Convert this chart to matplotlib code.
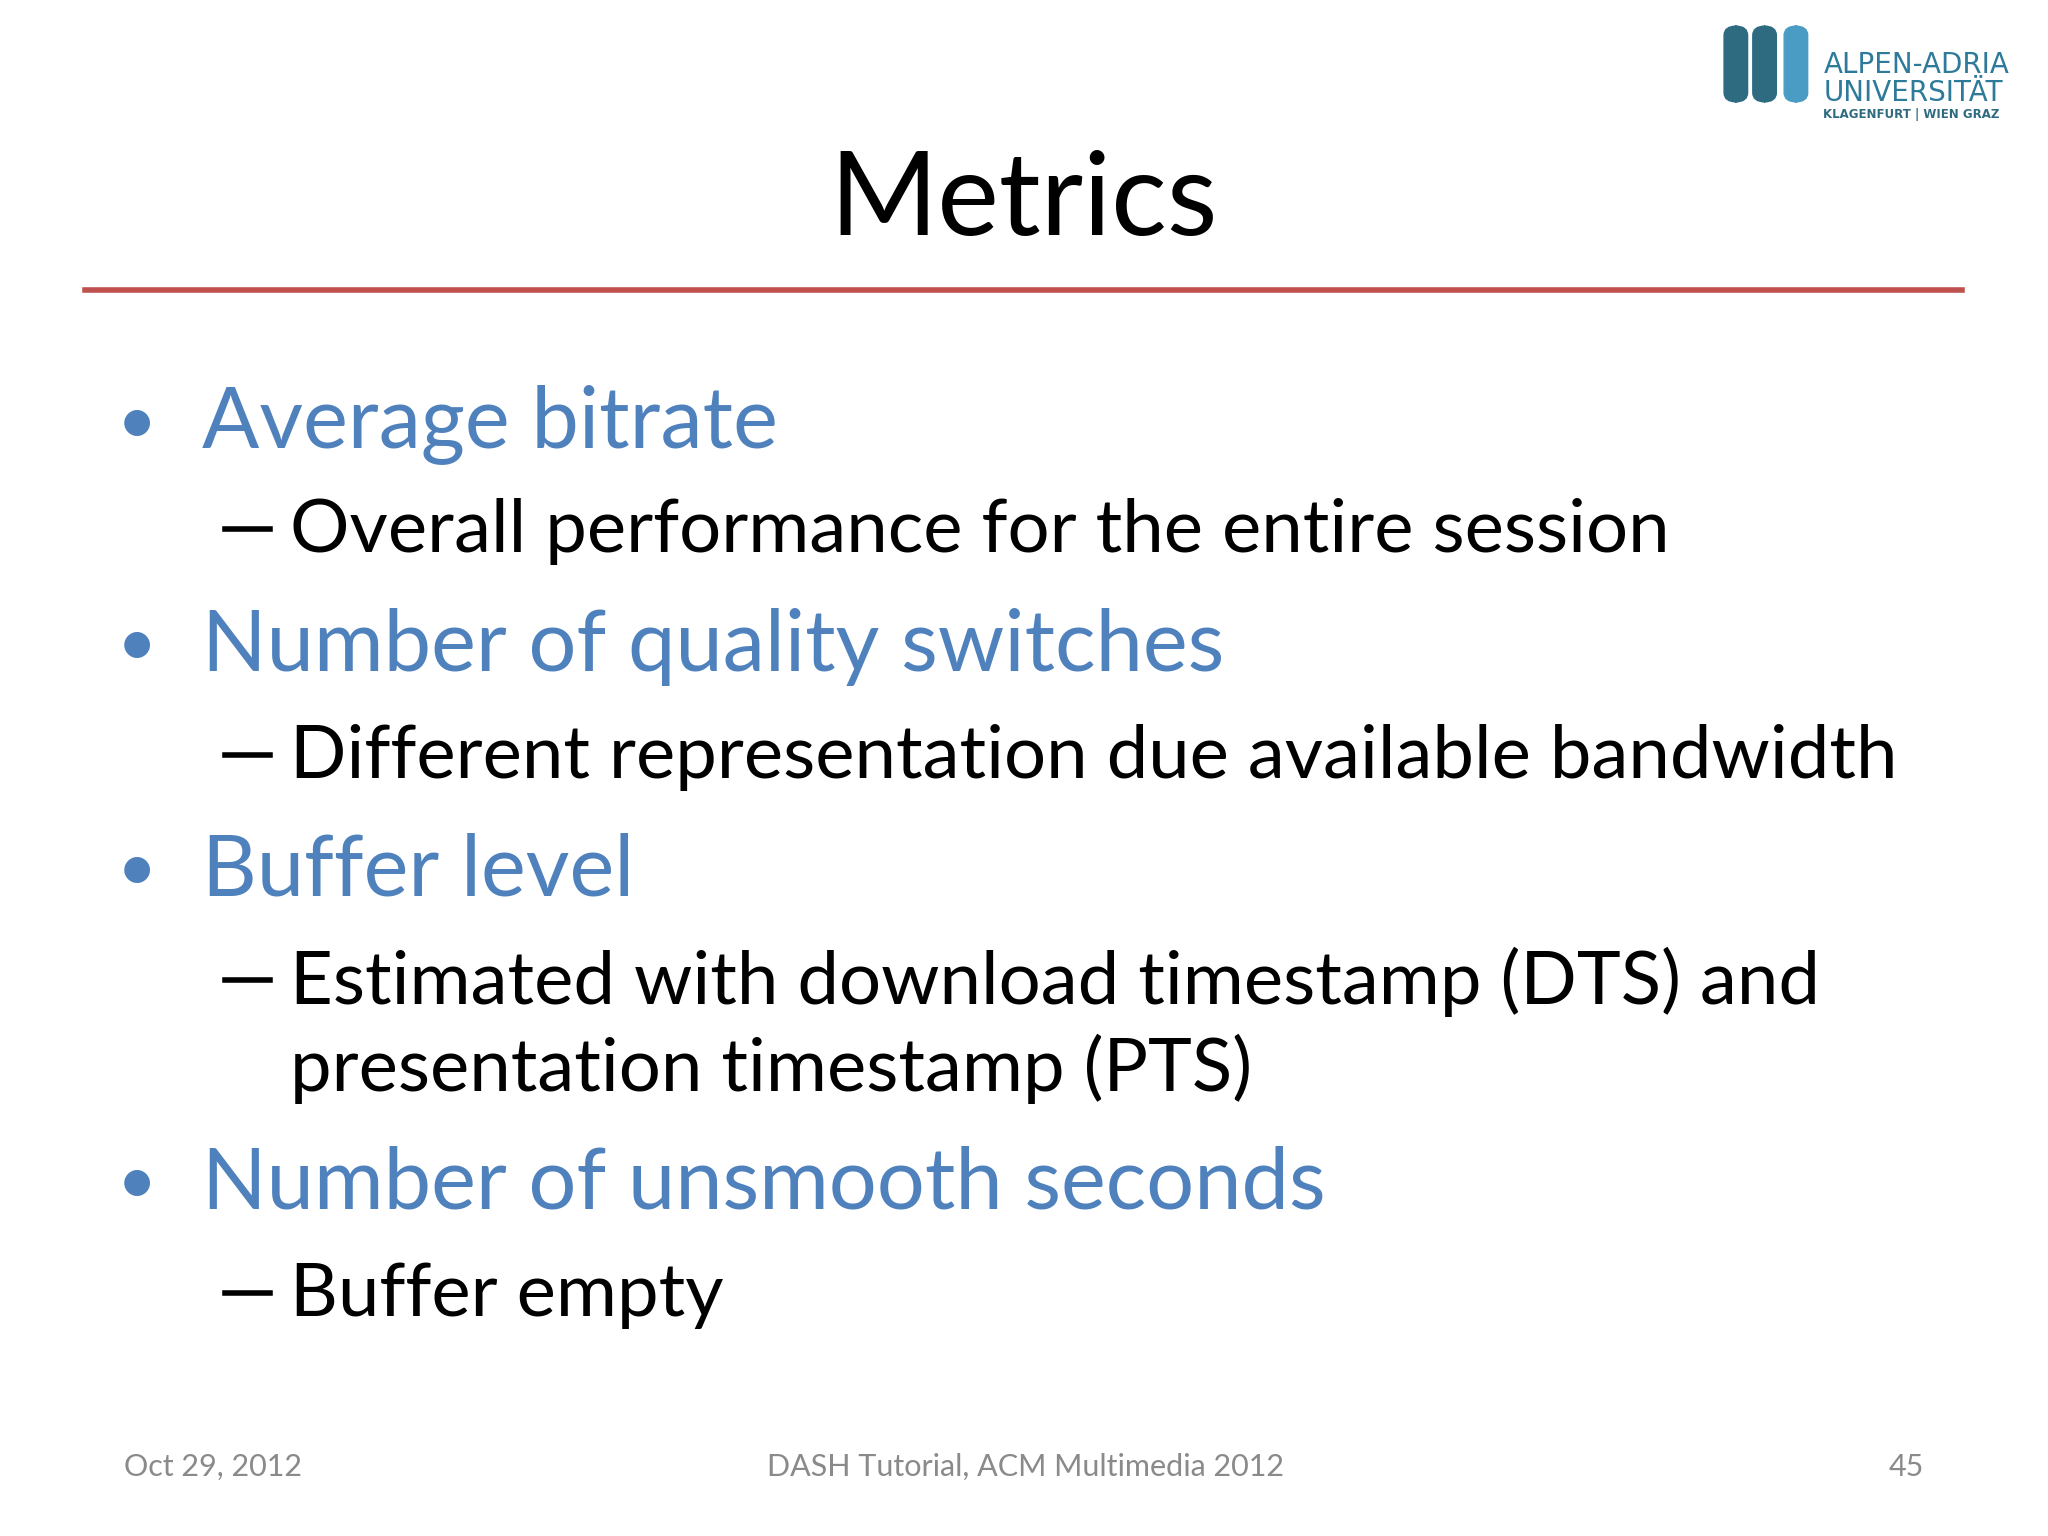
import matplotlib.pyplot as plt
from matplotlib.patches import FancyBboxPatch

title = 'Metrics'
bullets = [
    ('b', 'Average bitrate'),
    ('s', 'Overall performance for the entire session'),
    ('b', 'Number of quality switches'),
    ('s', 'Different representation due available bandwidth'),
    ('b', 'Buffer level'),
    ('s', 'Estimated with download timestamp (DTS) and'),
    ('c', 'presentation timestamp (PTS)'),
    ('b', 'Number of unsmooth seconds'),
    ('s', 'Buffer empty'),
]
line_y = [325, 407, 495, 580, 667, 752, 818, 907, 992]
footer = ['Oct 29, 2012', 'DASH Tutorial, ACM Multimedia 2012', '45']

H = 1176.0
W = 1568.0
blue = '#4F81BD'
font = 'Lato'

fig = plt.figure(figsize=(20.48, 15.36), dpi=100)
fig.patch.set_facecolor('white')

fig.text(0.5, 1 - 155 / H, title, ha='center', va='center', fontsize=84, family=font)
fig.add_artist(plt.Line2D([65 / W, 1502 / W], [1 - 222 / H] * 2, color='#C0504D', lw=4))

for (kind, txt), y in zip(bullets, line_y):
    yy = 1 - y / H
    if kind == 'b':
        fig.text(105 / W, yy, '•', ha='center', va='center', fontsize=50, color=blue, family=font)
        fig.text(155 / W, yy, txt, ha='left', va='center', fontsize=61, color=blue, family=font)
    else:
        if kind == 's':
            fig.add_artist(plt.Line2D([172 / W, 207 / W], [yy + 2 / H] * 2, color='black', lw=4))
        fig.text(222 / W, yy, txt, ha='left', va='center', fontsize=53.5, family=font)

fy = 1 - 1123 / H
fig.text(95 / W, fy, footer[0], ha='left', va='center', fontsize=22, color='#8a8a8a', family=font)
fig.text(785 / W, fy, footer[1], ha='center', va='center', fontsize=22, color='#8a8a8a', family=font)
fig.text(1473 / W, fy, footer[2], ha='right', va='center', fontsize=22, color='#8a8a8a', family=font)

# logo
for x0, c in [(1320, '#2E6B80'), (1342, '#2E6B80'), (1366, '#4A9CC4')]:
    fig.add_artist(FancyBboxPatch((x0 / W, 1 - 78 / H), 18 / W, 58 / H,
                                  boxstyle='round,pad=0,rounding_size=0.006',
                                  color=c, transform=fig.transFigure))
fig.text(1396 / W, 1 - 50 / H, 'ALPEN-ADRIA', fontsize=20, color='#2E7A9A', family='DejaVu Sans', va='center')
fig.text(1396 / W, 1 - 71 / H, 'UNIVERSITÄT', fontsize=20, color='#2E7A9A', family='DejaVu Sans', va='center')
fig.text(1396 / W, 1 - 88 / H, 'KLAGENFURT | WIEN GRAZ', fontsize=8.5, color='#2E6B80',
         family='DejaVu Sans', va='center', weight='bold')

fig.savefig('out.png', dpi=100)
